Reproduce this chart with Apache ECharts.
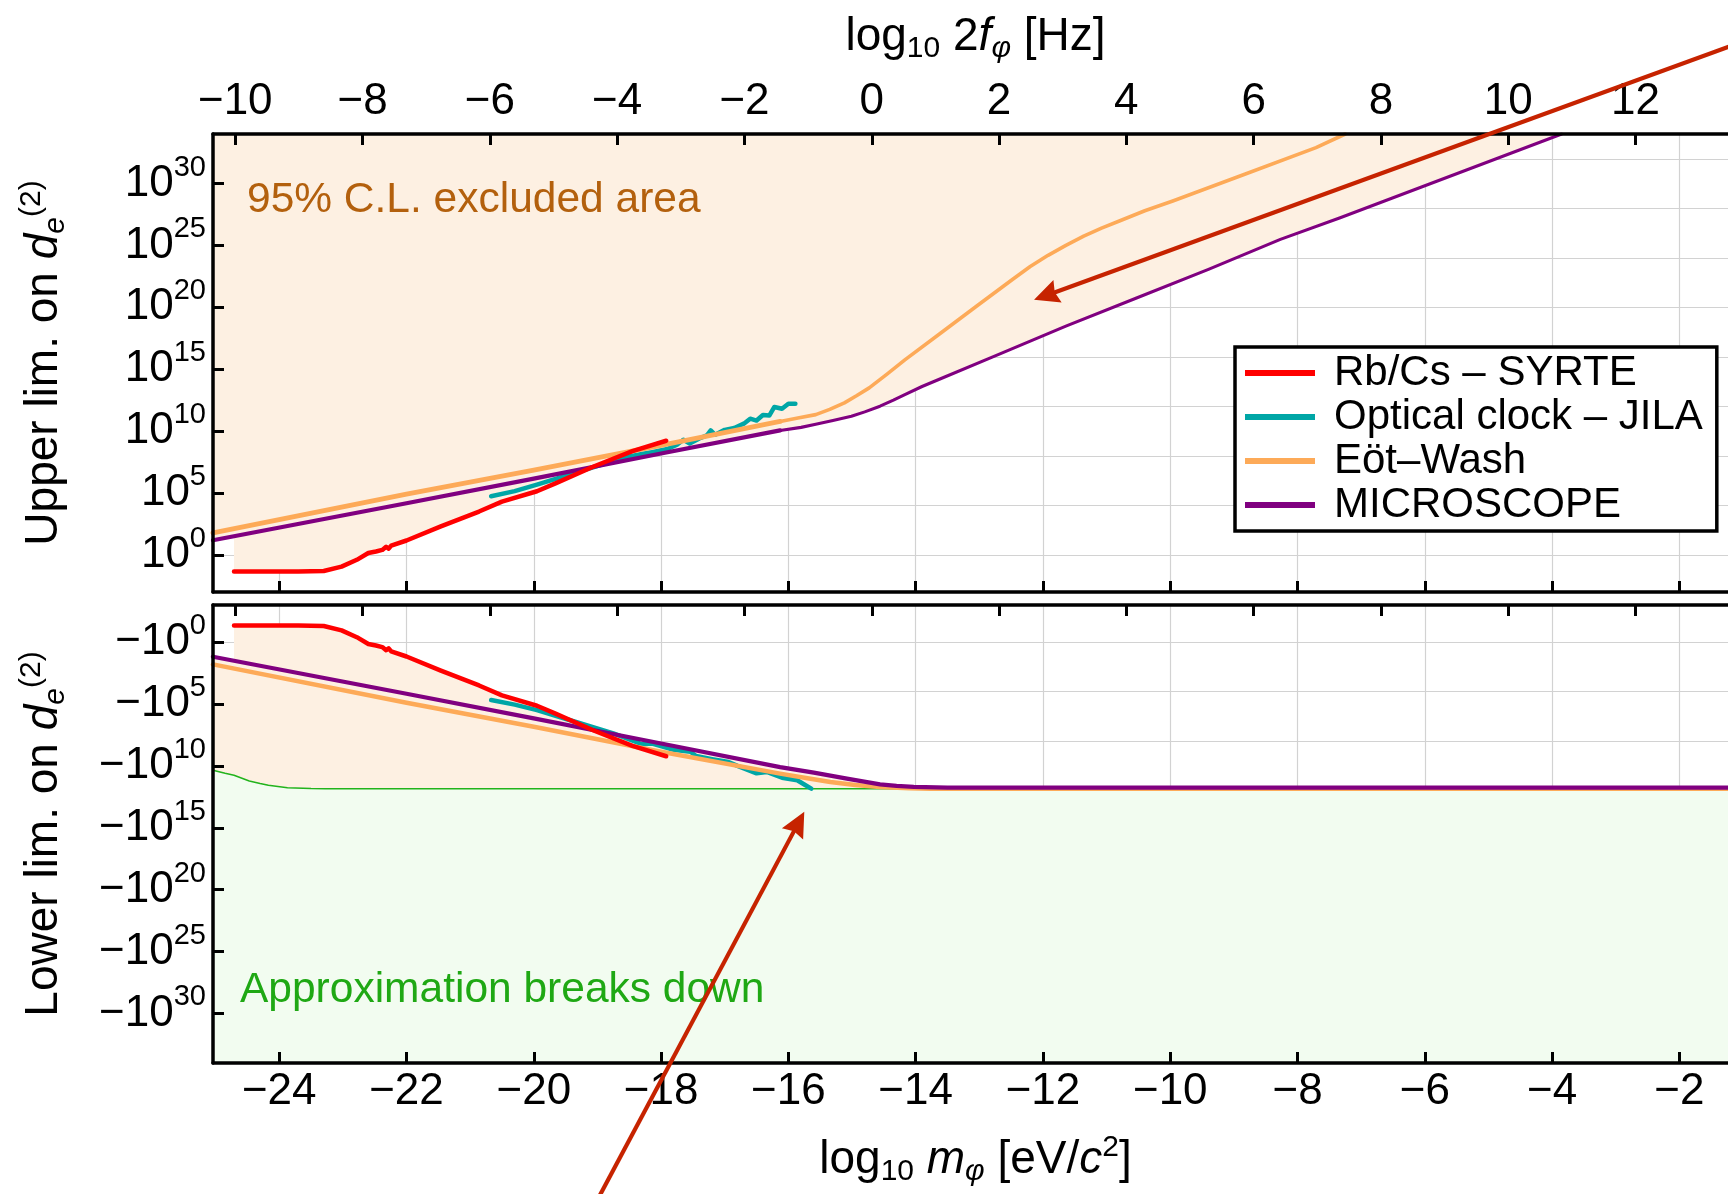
<!DOCTYPE html>
<html><head><meta charset="utf-8">
<script src="https://cdn.jsdelivr.net/npm/echarts@6/dist/echarts.min.js"></script>
<style>html,body{margin:0;padding:0;background:#fff}#c{width:1728px;height:1194px}</style>
</head><body><div id="c"></div>
<script>
// ---------- tick values ----------
const massTicks = [-24,-22,-20,-18,-16,-14,-12,-10,-8,-6,-4,-2];
const freqTicks = [-10,-8,-6,-4,-2,0,2,4,6,8,10,12];
const expTicks = [0,5,10,15,20,25,30];
const gridExps = [0,4,8,12,16,20,24,28,32];
const FREQ_OFFSET = 14.69;          // top axis (log10 2f) = bottom axis (log10 m) + offset
const M_MIN = -25.04, M_MAX = -1.08, E_MIN = -3, E_MAX = 34;

// ---------- data : [log10 m (eV), log10 |d_e^(2)|] ----------
const rbcsSYRTE = [[-24.71,-1.35],[-24.2,-1.35],[-23.7,-1.35],[-23.3,-1.3],[-23.02,-0.95],[-22.78,-0.4],[-22.6,0.15],[-22.48,0.27],[-22.38,0.4],[-22.32,0.65],[-22.28,0.5],[-22.24,0.75],[-22.0,1.16],[-21.46,2.3],[-20.86,3.5],[-20.5,4.3],[-19.95,5.14],[-19.65,5.8],[-19.05,7.16],[-18.45,8.38],[-17.92,9.22]];
const jilaUpper = [[-20.67,4.73],[-20.3,5.15],[-19.95,5.68],[-19.35,6.62],[-18.75,7.57],[-18.5,7.95],[-18.3,8.15],[-18.14,8.3],[-17.9,8.55],[-17.75,8.9],[-17.65,9.3],[-17.55,9.0],[-17.4,9.4],[-17.28,9.65],[-17.22,10.05],[-17.15,9.7],[-17.0,10.1],[-16.85,10.25],[-16.7,10.6],[-16.6,11.0],[-16.5,10.85],[-16.4,11.3],[-16.3,11.25],[-16.22,11.95],[-16.1,11.8],[-16.0,12.2],[-15.89,12.2]];
const jilaLower = [[-20.67,4.68],[-20.3,5.05],[-19.95,5.49],[-19.35,6.43],[-18.75,7.38],[-18.5,7.85],[-18.3,8.25],[-18.14,8.19],[-17.8,8.7],[-17.54,8.86],[-17.45,9.2],[-17.2,9.45],[-16.94,9.68],[-16.8,10.0],[-16.5,10.6],[-16.34,10.49],[-16.1,10.95],[-15.86,11.16],[-15.75,11.5],[-15.64,11.84]];
const eotWashUpper = [[-25.04,1.77],[-22,4.9],[-20,6.84],[-18,8.85],[-16.13,10.78],[-15.85,11.05],[-15.57,11.33],[-15.35,11.75],[-15.12,12.28],[-14.93,12.85],[-14.73,13.49],[-14.45,14.6],[-14.17,15.75],[-13.6,17.94],[-13.04,20.1],[-12.48,22.25],[-12.2,23.3],[-11.92,24.2],[-11.64,25.0],[-11.36,25.75],[-11.08,26.4],[-10.8,26.97],[-10.4,27.8],[-9.96,28.59],[-8.83,30.75],[-7.71,32.9],[-7.25,34]];
const eotWashLower = [[-25.04,1.8],[-22,4.9],[-20,6.84],[-18,8.85],[-16.13,10.62],[-15.7,11.0],[-15.34,11.3],[-14.95,11.55],[-14.56,11.7],[-14.1,11.8],[-13.77,11.84],[-1.08,11.84]];
const microscopeUpper = [[-25.04,1.18],[-22,4.17],[-20,6.16],[-18,8.19],[-16.13,10.05],[-15.8,10.3],[-15.57,10.55],[-15.3,10.85],[-15.01,11.2],[-14.8,11.55],[-14.56,12.01],[-14.35,12.5],[-14.17,12.95],[-13.9,13.6],[-13.6,14.25],[-12.76,16.05],[-11.64,18.48],[-10.52,20.77],[-9.4,23.06],[-8.27,25.49],[-7.33,27.24],[-3.85,34]];
const microscopeLower = [[-25.04,1.18],[-22,4.17],[-20,6.16],[-18,8.19],[-16.13,10.09],[-15.6,10.55],[-15.08,11.03],[-14.56,11.49],[-14.3,11.62],[-14.03,11.7],[-13.5,11.76],[-1.08,11.76]];
const breakdownEdge = [[-25.04,10.35],[-24.85,10.6],[-24.71,10.76],[-24.47,11.22],[-24.3,11.42],[-24.17,11.57],[-23.87,11.76],[-23.5,11.82],[-23.27,11.84],[-1.08,11.84]];
const excludedEdgeUpper = [[-25.04,1.18],[-24.71,1.51],[-24.71,-1.35],[-23.3,-1.3],[-23.02,-0.95],[-22.78,-0.4],[-22.6,0.15],[-22.24,0.75],[-22.0,1.16],[-21.46,2.3],[-20.86,3.5],[-20.5,4.3],[-19.95,5.14],[-19.65,5.8],[-19.05,7.1],[-18,8.19],[-16.13,10.05],[-15.8,10.3],[-15.57,10.55],[-15.3,10.85],[-15.01,11.2],[-14.8,11.55],[-14.56,12.01],[-14.35,12.5],[-14.17,12.95],[-13.9,13.6],[-13.6,14.25],[-12.76,16.05],[-11.64,18.48],[-10.52,20.77],[-9.4,23.06],[-8.27,25.49],[-7.33,27.24],[-3.85,34]];
const excludedEdgeLower = [[-25.04,1.18],[-24.71,1.51],[-24.71,-1.32],[-23.3,-1.3],[-23.02,-0.95],[-22.78,-0.4],[-22.6,0.1],[-22.24,0.7],[-22.0,1.16],[-21.46,2.3],[-20.86,3.5],[-20.5,4.3],[-19.95,5.14],[-19.65,5.8],[-19.05,7.1],[-18,8.19],[-16.13,10.09],[-15.6,10.55],[-15.08,11.03],[-14.56,11.49],[-14.3,11.62],[-14.03,11.7],[-13.5,11.76],[-1.08,11.76]];
const seriesNames = ['Rb/Cs \u2013 SYRTE','Optical clock \u2013 JILA','E\u00f6t\u2013Wash','MICROSCOPE'];

// annotation anchors (data coordinates)
const arrowUpper = {from:[-0.69,42.06], to:[-12.14,20.6]};
const arrowLower = {from:[-19.15,46.5], to:[-15.75,13.71]};
const SPLIT_M = -16.13;   // upper-panel curves are drawn thinner to the right of this mass

// ---------- styles ----------
const FONT = 'Liberation Sans';
const C_RED='#ff0000', C_TEAL='#00a6a6', C_ORANGE='#fdaa58', C_PURPLE='#800080';
const C_PEACH='#fdf0e2', C_GREENFILL='#f2fcf0', C_GREEN='#22b31c';
const C_ARROW='#c62300';
const GRID_COLOR='#d2d2d2';

const MINUS = '\u2212';
const minus = v => (v<0 ? MINUS+(-v) : ''+v);
const richTick = {
  b:{fontSize:44, lineHeight:48, fontFamily:FONT, color:'#000'},
  s:{fontSize:29, lineHeight:30, padding:[0,0,32,0], fontFamily:FONT, color:'#000'}
};
const NF = 46, NS = 30;
const richName = {
  t:{fontSize:NF, lineHeight:50, fontFamily:FONT, color:'#000'},
  it:{fontSize:NF, lineHeight:50, fontFamily:FONT, fontStyle:'italic', color:'#000'},
  sub:{fontSize:NS, lineHeight:30, padding:[24,0,0,0], fontFamily:FONT, color:'#000'},
  isub:{fontSize:NS, lineHeight:30, padding:[24,0,0,0], fontFamily:FONT, fontStyle:'italic', color:'#000'},
  sup:{fontSize:NS, lineHeight:30, padding:[0,0,24,0], fontFamily:FONT, color:'#000'}
};
const AXLINE = {show:true, onZero:false, lineStyle:{color:'#000', width:3.5}};
const TICK = (vals)=>({show:true, inside:true, length:11, lineStyle:{color:'#000', width:3}, customValues: vals});

function tickX(gi, pos, mn, mx, vals, label, name, gap){
  return {gridIndex:gi, type:'value', position:pos, min:mn, max:mx, z:10,
    axisLine:AXLINE, axisTick:TICK(vals),
    axisLabel: label ? {show:true, customValues:vals, margin:label, formatter:minus, fontFamily:FONT, fontSize:44, color:'#000'} : {show:false, customValues:vals},
    splitLine:{show:false}, name: name||'', nameLocation:'middle', nameGap: gap||0,
    nameTextStyle:{rich:richName}};
}
function gridX(gi){
  return {gridIndex:gi, type:'value', position:'bottom', min:M_MIN, max:M_MAX, z:0,
    axisLine:{show:false}, axisTick:{show:false, customValues:massTicks}, axisLabel:{show:false, customValues:massTicks},
    splitLine:{show:true, lineStyle:{color:GRID_COLOR, width:1.2}}};
}
function tickY(gi, inverse, pre, name){
  return {gridIndex:gi, type:'value', position:'left', min:E_MIN, max:E_MAX, inverse:inverse, z:10,
    axisLine:AXLINE, axisTick:TICK(expTicks),
    axisLabel:{show:true, customValues:expTicks, margin:7, formatter:v=>'{b|'+pre+'10}{s|'+v+'}', rich:richTick},
    splitLine:{show:false}, name:name, nameLocation:'middle', nameGap:144, nameRotate:90,
    nameTextStyle:{rich:richName}};
}
function gridY(gi, inverse){
  return {gridIndex:gi, type:'value', position:'left', min:E_MIN, max:E_MAX, inverse:inverse, z:0,
    axisLine:{show:false}, axisTick:{show:false, customValues:gridExps}, axisLabel:{show:false, customValues:gridExps},
    splitLine:{show:true, lineStyle:{color:GRID_COLOR, width:1.2}}};
}
function lineS(name, data, color, width, xi, yi){
  return {type:'line', name:name, data:data, xAxisIndex:xi, yAxisIndex:yi, symbol:'none', showSymbol:false,
    color:color, itemStyle:{color:color}, lineStyle:{color:color, width:width, cap:'round', join:'round'}, z:3, silent:true, clip:true};
}
function areaS(name, data, fill, lineColor, lineWidth, xi, yi, z){
  return {type:'line', name:name, data:data, xAxisIndex:xi, yAxisIndex:yi, symbol:'none', showSymbol:false,
    lineStyle:{color:lineColor, width:lineWidth}, areaStyle:{color:fill, opacity:1, origin:'end'}, z:z, silent:true, clip:true};
}
const leftOf = arr => arr.filter(p => p[0] <= SPLIT_M);
const rightOf = arr => arr.filter(p => p[0] >= SPLIT_M);

const chart = echarts.init(document.getElementById('c'), null, {renderer:'canvas'});
const option = {
  animation:false,
  backgroundColor:'#fff',
  grid:[
    {left:213, top:134, right:-10, height:458, outerBoundsMode:'none', show:false},
    {left:213, top:605, right:-10, height:458, outerBoundsMode:'none', show:false}
  ],
  xAxis:[
    tickX(0,'bottom',M_MIN,M_MAX,massTicks,0),
    tickX(0,'top',M_MIN+FREQ_OFFSET,M_MAX+FREQ_OFFSET,freqTicks,10,'{t|log}{sub|10}{t| 2}{it|f}{isub|\u03c6}{t| [Hz]}',72),
    gridX(0),
    tickX(1,'top',M_MIN+FREQ_OFFSET,M_MAX+FREQ_OFFSET,freqTicks,0),
    tickX(1,'bottom',M_MIN,M_MAX,massTicks,7,'{t|log}{sub|10}{t| }{it|m}{isub|\u03c6}{t| [eV/}{it|c}{sup|2}{t|]}',72),
    gridX(1)
  ],
  yAxis:[
    tickY(0,false,'','{t|Upper lim. on }{it|d}{isub|e}{sup|(2)}'),
    gridY(0,false),
    tickY(1,true,MINUS,'{t|Lower lim. on }{it|d}{isub|e}{sup|(2)}'),
    gridY(1,true)
  ],
  legend:{
    show:true, orient:'vertical', left:1235, top:347, itemWidth:70, itemHeight:6, itemGap:0, icon:'rect',
    padding:[4,14,4,10], borderColor:'#000', borderWidth:3.5, backgroundColor:'#fff', borderRadius:0,
    textStyle:{fontFamily:FONT, fontSize:42, lineHeight:44, color:'#000', padding:[0,0,0,14]},
    data:seriesNames, selectedMode:false, z:20
  },
  series:[
    areaS('excludedU', excludedEdgeUpper, C_PEACH, C_PEACH, 0, 0, 0, 1),
    lineS(seriesNames[1], jilaUpper, C_TEAL, 4.5, 0, 0),
    lineS(seriesNames[2], leftOf(eotWashUpper), C_ORANGE, 4.8, 0, 0),
    lineS(seriesNames[2], rightOf(eotWashUpper), C_ORANGE, 3.6, 0, 0),
    lineS(seriesNames[3], leftOf(microscopeUpper), C_PURPLE, 4.3, 0, 0),
    lineS(seriesNames[3], rightOf(microscopeUpper), C_PURPLE, 3.1, 0, 0),
    lineS(seriesNames[0], rbcsSYRTE, C_RED, 4.5, 0, 0),

    areaS('excludedL', excludedEdgeLower, C_PEACH, C_PEACH, 0, 4, 2, 1),
    areaS('breakdown', breakdownEdge, C_GREENFILL, C_GREEN, 1.5, 4, 2, 2),
    lineS(seriesNames[1], jilaLower, C_TEAL, 4.5, 4, 2),
    lineS(seriesNames[2], eotWashLower, C_ORANGE, 4.5, 4, 2),
    lineS(seriesNames[3], microscopeLower, C_PURPLE, 4.3, 4, 2),
    lineS(seriesNames[0], rbcsSYRTE, C_RED, 4.5, 4, 2)
  ]
};
chart.setOption(option);

function arrowGraphic(fromPx, toPx){
  const dx = toPx[0]-fromPx[0], dy = toPx[1]-fromPx[1];
  const len = Math.hypot(dx,dy), ux = dx/len, uy = dy/len;
  const L = 30, W = 24;
  const bx = toPx[0]-ux*L, by = toPx[1]-uy*L;
  const px = -uy, py = ux;
  return [
    {type:'line', z:50, shape:{x1:fromPx[0], y1:fromPx[1], x2:toPx[0]-ux*L*0.7, y2:toPx[1]-uy*L*0.7}, style:{stroke:C_ARROW, lineWidth:4.2}},
    {type:'polygon', z:51, shape:{points:[[toPx[0],toPx[1]],[bx+px*W/2+ux*5, by+py*W/2+uy*5],[bx+ux*8,by+uy*8],[bx-px*W/2+ux*5, by-py*W/2+uy*5]]}, style:{fill:C_ARROW}}
  ];
}
const pU1 = chart.convertToPixel({xAxisIndex:0, yAxisIndex:0}, arrowUpper.from);
const pU2 = chart.convertToPixel({xAxisIndex:0, yAxisIndex:0}, arrowUpper.to);
const pL1 = chart.convertToPixel({xAxisIndex:4, yAxisIndex:2}, arrowLower.from);
const pL2 = chart.convertToPixel({xAxisIndex:4, yAxisIndex:2}, arrowLower.to);

chart.setOption({graphic:[
  {type:'text', z:40, x:247, y:200, style:{text:'95% C.L. excluded area', fontFamily:FONT, fontSize:42.5, fill:'#b3600d', verticalAlign:'middle', align:'left'}},
  {type:'text', z:40, x:240, y:990, style:{text:'Approximation breaks down', fontFamily:FONT, fontSize:42.5, fill:'#1fa814', verticalAlign:'middle', align:'left'}},
  ...arrowGraphic(pU1, pU2),
  ...arrowGraphic(pL1, pL2)
]});
</script></body></html>
